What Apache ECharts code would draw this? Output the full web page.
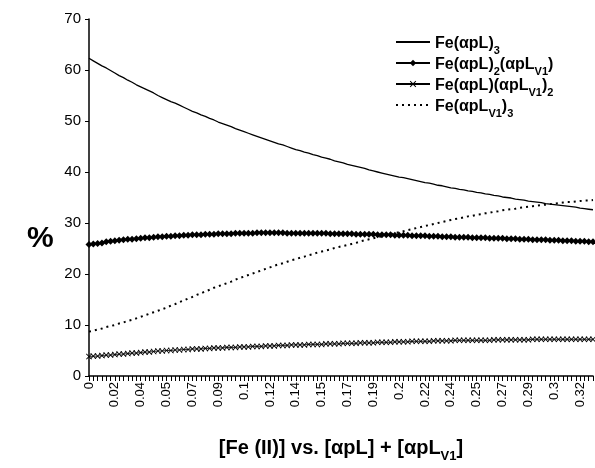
<!DOCTYPE html>
<html>
<head>
<meta charset="utf-8">
<script src="https://cdn.jsdelivr.net/npm/echarts@6/dist/echarts.min.js"></script>
<style>
html, body { margin: 0; padding: 0; background: #fff; }
#main { width: 595px; height: 468px; }
</style>
</head>
<body>
<div id="main"></div>
<script>
// x 轴刻度标签（每 6 个点一个）
var tickLabels = ['0', '0.02', '0.04', '0.05', '0.07', '0.09', '0.1', '0.12', '0.14', '0.15',
    '0.17', '0.19', '0.2', '0.22', '0.24', '0.25', '0.27', '0.29', '0.3', '0.32'];
var labelStep = 6;
var pointCount = 118;

var legendName = ['Fe(αpL)3', 'Fe(αpL)2(αpLV1)', 'Fe(αpL)(αpLV1)2', 'Fe(αpLV1)3'];

// Fe(αpL)3
var feL3 = [
    62.3, 61.8, 61.3, 60.8, 60.4, 59.9, 59.4,
    58.9, 58.5, 58.0, 57.6, 57.1, 56.7,
    56.3, 55.9, 55.5, 55.0, 54.6, 54.2,
    53.8, 53.5, 53.1, 52.7, 52.3, 51.9,
    51.6, 51.2, 50.9, 50.5, 50.2, 49.8,
    49.5, 49.2, 48.9, 48.5, 48.2, 47.9,
    47.6, 47.3, 47.0, 46.7, 46.4, 46.1,
    45.8, 45.5, 45.3, 45.0, 44.7, 44.4,
    44.2, 43.9, 43.7, 43.4, 43.2, 42.9,
    42.7, 42.5, 42.2, 42.0, 41.8, 41.5,
    41.3, 41.1, 40.9, 40.7, 40.4, 40.2,
    40.0, 39.8, 39.6, 39.4, 39.2, 39.0,
    38.9, 38.7, 38.5, 38.3, 38.1, 37.9,
    37.8, 37.6, 37.4, 37.3, 37.1, 36.9,
    36.8, 36.6, 36.5, 36.3, 36.2, 36.0,
    35.9, 35.7, 35.6, 35.4, 35.3, 35.1,
    35.0, 34.9, 34.7, 34.6, 34.5, 34.3,
    34.2, 34.1, 34.0, 33.8, 33.7, 33.6,
    33.5, 33.4, 33.3, 33.2, 33.1, 32.9,
    32.8, 32.7, 32.6
];

// Fe(αpL)2(αpLV1)
var feL2V1 = [
    25.8, 25.9, 26.0, 26.1, 26.3, 26.4, 26.5,
    26.6, 26.7, 26.8, 26.8, 26.9, 27.0,
    27.1, 27.1, 27.2, 27.3, 27.3, 27.4,
    27.4, 27.5, 27.5, 27.6, 27.6, 27.7,
    27.7, 27.7, 27.8, 27.8, 27.8, 27.9,
    27.9, 27.9, 27.9, 28.0, 28.0, 28.0,
    28.0, 28.0, 28.1, 28.1, 28.1, 28.1,
    28.1, 28.1, 28.1, 28.0, 28.0, 28.0,
    28.0, 28.0, 28.0, 28.0, 28.0, 28.0,
    28.0, 27.9, 27.9, 27.9, 27.9, 27.9,
    27.9, 27.8, 27.8, 27.8, 27.8, 27.8,
    27.7, 27.7, 27.7, 27.7, 27.6, 27.6,
    27.6, 27.6, 27.5, 27.5, 27.5, 27.5,
    27.4, 27.4, 27.4, 27.3, 27.3, 27.3,
    27.2, 27.2, 27.2, 27.2, 27.1, 27.1,
    27.1, 27.1, 27.0, 27.0, 27.0, 27.0,
    26.9, 26.9, 26.9, 26.8, 26.8, 26.8,
    26.7, 26.7, 26.7, 26.7, 26.6, 26.6,
    26.6, 26.5, 26.5, 26.5, 26.4, 26.4,
    26.4, 26.3, 26.3
];

// Fe(αpL)(αpLV1)2
var feLV12 = [
    3.8, 3.9, 3.9, 4.0, 4.1, 4.1, 4.2,
    4.3, 4.3, 4.4, 4.5, 4.5, 4.6,
    4.7, 4.7, 4.8, 4.9, 4.9, 5.0,
    5.0, 5.1, 5.1, 5.2, 5.2, 5.3,
    5.3, 5.3, 5.4, 5.4, 5.5, 5.5,
    5.5, 5.6, 5.6, 5.6, 5.7, 5.7,
    5.7, 5.8, 5.8, 5.8, 5.9, 5.9,
    5.9, 6.0, 6.0, 6.0, 6.1, 6.1,
    6.1, 6.1, 6.2, 6.2, 6.2, 6.2,
    6.3, 6.3, 6.3, 6.3, 6.4, 6.4,
    6.4, 6.4, 6.5, 6.5, 6.5, 6.5,
    6.6, 6.6, 6.6, 6.6, 6.7, 6.7,
    6.7, 6.7, 6.8, 6.8, 6.8, 6.8,
    6.8, 6.9, 6.9, 6.9, 6.9, 6.9,
    7.0, 7.0, 7.0, 7.0, 7.0, 7.0,
    7.0, 7.0, 7.0, 7.1, 7.1, 7.1,
    7.1, 7.1, 7.1, 7.1, 7.1, 7.1,
    7.2, 7.2, 7.2, 7.2, 7.2, 7.2,
    7.2, 7.2, 7.2, 7.2, 7.2, 7.2,
    7.2, 7.2, 7.2
];

// Fe(αpLV1)3
var feV13 = [
    8.7, 8.9, 9.1, 9.3, 9.6, 9.8, 10.0,
    10.3, 10.5, 10.8, 11.0, 11.3, 11.6,
    11.9, 12.2, 12.5, 12.8, 13.1, 13.4,
    13.8, 14.1, 14.5, 14.8, 15.2, 15.5,
    15.9, 16.2, 16.6, 16.9, 17.3, 17.6,
    17.9, 18.2, 18.5, 18.9, 19.2, 19.5,
    19.8, 20.1, 20.4, 20.7, 21.0, 21.3,
    21.6, 21.9, 22.1, 22.4, 22.7, 22.9,
    23.2, 23.4, 23.7, 23.9, 24.2, 24.4,
    24.6, 24.8, 25.1, 25.3, 25.5, 25.7,
    25.9, 26.1, 26.4, 26.6, 26.8, 27.0,
    27.2, 27.4, 27.6, 27.8, 28.0, 28.2,
    28.4, 28.6, 28.8, 29.0, 29.2, 29.4,
    29.6, 29.8, 30.0, 30.2, 30.4, 30.6,
    30.8, 30.9, 31.1, 31.3, 31.4, 31.6,
    31.7, 31.9, 32.0, 32.2, 32.3, 32.5,
    32.6, 32.7, 32.8, 33.0, 33.1, 33.2,
    33.3, 33.4, 33.5, 33.6, 33.7, 33.8,
    33.9, 34.0, 34.1, 34.1, 34.2, 34.3,
    34.4, 34.4, 34.5
];

var myChart = echarts.init(document.getElementById('main'));

var categories = [];
for (var i = 0; i < pointCount; i++) {
    categories.push(String(i));
}

// 图例带下标
var legendRich = {
    '0': '{b|Fe(αpL)}{s|3}',
    '1': '{b|Fe(αpL)}{s|2}{b|(αpL}{s|V1}{b|)}',
    '2': '{b|Fe(αpL)(αpL}{s|V1}{b|)}{s|2}',
    '3': '{b|Fe(αpL}{s|V1}{b|)}{s|3}'
};

var richStyle = {
    b: { fontFamily: 'Liberation Sans, Arial', fontWeight: 'bold', fontSize: 16, color: '#000', lineHeight: 20, verticalAlign: 'bottom' },
    s: { fontFamily: 'Liberation Sans, Arial', fontWeight: 'bold', fontSize: 11, color: '#000', lineHeight: 20, verticalAlign: 'bottom', padding: [0, 0, -4, 0] }
};

var crossPath = 'path://M0,1 L1,0 L5,4 L9,0 L10,1 L6,5 L10,9 L9,10 L5,6 L1,10 L0,9 L4,5 Z';

var option = {
    animation: false,
    backgroundColor: '#fff',
    grid: {
        left: 89,
        right: 2,
        top: 19,
        bottom: 77
    },
    legend: {
        orient: 'vertical',
        left: 390,
        top: 31,
        itemWidth: 34,
        itemHeight: 8,
        itemGap: 1,
        data: [
            { name: legendName[0], itemStyle: { opacity: 0 } },
            { name: legendName[1] },
            { name: legendName[2] },
            { name: legendName[3], itemStyle: { opacity: 0 } }
        ],
        formatter: function (name) {
            return legendRich[legendName.indexOf(name)];
        },
        textStyle: {
            rich: richStyle
        }
    },
    graphic: [{
        type: 'text',
        left: 27,
        top: 224,
        style: {
            text: '%',
            font: 'bold 30px "Liberation Sans", Arial',
            fill: '#000'
        }
    }],
    xAxis: {
        type: 'category',
        boundaryGap: false,
        data: categories,
        name: '{b|[Fe (II)] vs. [αpL] + [αpL}{s|V1}{b|]}',
        nameLocation: 'middle',
        nameGap: 58,
        nameTextStyle: {
            rich: {
                b: { fontFamily: 'Liberation Sans, Arial', fontWeight: 'bold', fontSize: 20, color: '#000', lineHeight: 24, verticalAlign: 'bottom' },
                s: { fontFamily: 'Liberation Sans, Arial', fontWeight: 'bold', fontSize: 13, color: '#000', lineHeight: 24, verticalAlign: 'bottom', padding: [0, 0, -5, 0] }
            }
        },
        axisLine: { lineStyle: { color: '#000', width: 1.5 } },
        axisTick: { interval: 0, length: 5, lineStyle: { color: '#000' } },
        axisLabel: {
            interval: labelStep - 1,
            rotate: 90,
            margin: 6,
            fontFamily: 'Liberation Sans, Arial',
            fontSize: 13,
            color: '#000',
            formatter: function (value, index) {
                return tickLabels[index / labelStep];
            }
        },
        splitLine: { show: false }
    },
    yAxis: {
        type: 'value',
        min: 0,
        max: 70,
        interval: 10,
        axisLine: { show: true, lineStyle: { color: '#000', width: 1.5 } },
        axisTick: { show: true, length: 4, lineStyle: { color: '#000' } },
        axisLabel: {
            margin: 8,
            fontFamily: 'Liberation Sans, Arial',
            fontSize: 15,
            color: '#000'
        },
        splitLine: { show: false }
    },
    series: [
        {
            name: legendName[0],
            type: 'line',
            data: feL3,
            symbol: 'none',
            lineStyle: { color: '#000', width: 1.3 },
            itemStyle: { color: '#000' }
        },
        {
            name: legendName[1],
            type: 'line',
            data: feL2V1,
            symbol: 'diamond',
            symbolSize: 7,
            showAllSymbol: true,
            lineStyle: { color: '#000', width: 1.3 },
            itemStyle: { color: '#000' }
        },
        {
            name: legendName[2],
            type: 'line',
            data: feLV12,
            symbol: crossPath,
            symbolSize: 6,
            showAllSymbol: true,
            lineStyle: { color: '#000', width: 0.8 },
            itemStyle: { color: '#000' }
        },
        {
            name: legendName[3],
            type: 'line',
            data: feV13,
            symbol: 'none',
            lineStyle: { color: '#000', width: 2, type: [2, 4] },
            itemStyle: { color: '#000' }
        }
    ]
};

myChart.setOption(option);
</script>
</body>
</html>
